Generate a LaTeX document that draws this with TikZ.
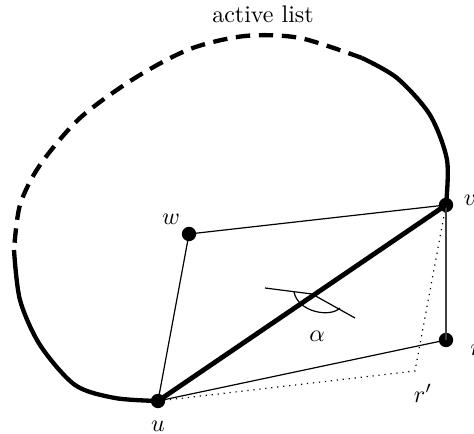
\documentclass[tikz,border=0pt]{standalone}
\begin{document}
\begin{tikzpicture}[x=0.4167pt,y=-0.4167pt,
  vert/.style={circle,fill=black,inner sep=0pt,minimum size=6pt},
  thin edge/.style={line width=0.5pt},
  thick edge/.style={line width=2pt},
  dots/.style={dotted,line width=0.5pt},
  curve/.style={line width=1.8pt},
  dashcurve/.style={line width=1.8pt,dash pattern=on 6pt off 3.6pt}]
\useasboundingbox (0,0) rectangle (474,434);
\node[vert] (u) at (158,401) {};
\node[vert] (v) at (446,205) {};
\node[vert] (w) at (189,234) {};
\node[vert] (r) at (446,340) {};
\coordinate (rp) at (415,371);
\coordinate (ax) at (312,294);
\coordinate (al) at (265,288);
\coordinate (ar) at (355,318);
\coordinate (a1) at (294,292);
\coordinate (a2) at (340,308);
% labels
\node at (263,14) {active list};
\node at (470,200) {$v$};
\node at (476,350) {$r$};
\node at (171,219) {$w$};
\node at (158,426) {$u$};
\node at (423,393) {$r'$};
\node at (317,336) {$\alpha$};
% active list curve
\draw[curve] plot[smooth] coordinates {(v.center) (447,160) (430,115) (397,78) (362,58)};
\draw[dashcurve] plot[smooth] coordinates {(362,58) (300,38) (245,36) (190,49) (135,78) (80,118) (40,165) (20,205) (14,250)};
\draw[curve] plot[smooth] coordinates {(14,250) (20,300) (40,345) (75,385) (115,398) (u.center)};
% edges
\draw[thin edge] (w.center) -- (v.center);
\draw[thin edge] (w.center) -- (u.center);
\draw[thin edge] (u.center) -- (r.center);
\draw[thin edge,black!75] (v.center) -- (r.center);
\draw[dots] (u.center) -- (rp) -- (v.center);
\draw[thick edge] (u.center) -- (v.center);
% angle
\draw[thin edge] (al) -- (ax) -- (ar);
\draw[thin edge] (a1) .. controls (298,312) and (330,318) .. (a2);
\end{tikzpicture}
\end{document}
